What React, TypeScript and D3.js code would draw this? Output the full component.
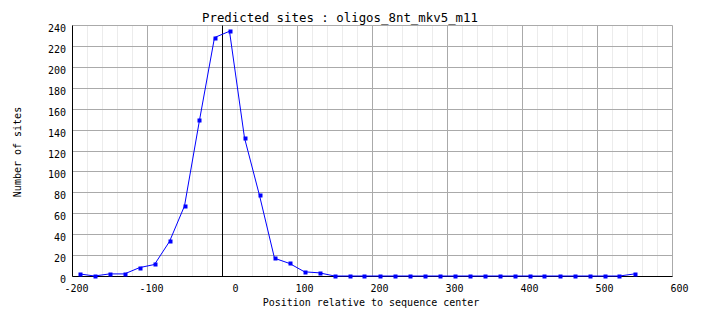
import React from "react";
import * as d3 from "d3";

const positions = [-190, -170, -150, -130, -110, -90, -70, -50, -30, -10, 10, 30, 50, 70, 90, 110, 130, 150, 170, 190, 210, 230, 250, 270, 290, 310, 330, 350, 370, 390, 410, 430, 450, 470, 490, 510, 530, 550];
const counts = [2, 0, 2, 2, 8, 11, 33, 67, 149, 228, 234, 132, 77, 17, 12, 4, 3, 0, 0, 0, 0, 0, 0, 0, 0, 0, 0, 0, 0, 0, 0, 0, 0, 0, 0, 0, 0, 2];
const xTicks = [-200, -100, 0, 100, 200, 300, 400, 500, 600];
const yTicks = [0, 20, 40, 60, 80, 100, 120, 140, 160, 180, 200, 220, 240];
const xMinor = d3.range(-200, 601, 20);
const title = "Predicted sites : oligos_8nt_mkv5_m11";
const xLabel = "Position relative to sequence center";
const yLabel = "Number of sites";

const W = 704, H = 328;
const x = d3.scaleLinear().domain([-200, 600]).range([72, 672]);
const y = d3.scaleLinear().domain([0, 240]).range([276, 25]);
const px = (v: number) => Math.round(v) + 0.5;

export default function App() {
  const data = positions.map((p, i) => ({ p, c: counts[i] }));
  const line = d3.line<{ p: number; c: number }>().x(d => x(d.p)).y(d => y(d.c));
  const font = "'DejaVu Sans Mono', monospace";
  return (
    <svg width={W} height={H} style={{ position: "absolute", left: 0, top: 0, background: "#fff" }}>
      <rect x={0} y={0} width={W} height={H} fill="#fff" />
      {xMinor.map(v => (
        <line key={"mn" + v} x1={px(x(v))} x2={px(x(v))} y1={px(y(240))} y2={px(y(0))} stroke="#ececec" strokeWidth={1} />
      ))}
      {xTicks.map(v => (
        <line key={"mj" + v} x1={px(x(v))} x2={px(x(v))} y1={px(y(240))} y2={px(y(0))} stroke="#aaaaaa" strokeWidth={1} />
      ))}
      {yTicks.map(v => (
        <line key={"yg" + v} x1={px(x(-200))} x2={px(x(600))} y1={px(y(v))} y2={px(y(v))} stroke="#aaaaaa" strokeWidth={1} />
      ))}
      <line x1={px(x(0))} x2={px(x(0))} y1={px(y(240))} y2={px(y(0))} stroke="#000" strokeWidth={1} />
      <line x1={px(x(-200))} x2={px(x(600))} y1={px(y(0))} y2={px(y(0))} stroke="#000" strokeWidth={1} />
      <line x1={px(x(-200))} x2={px(x(-200))} y1={px(y(240))} y2={px(y(0))} stroke="#000" strokeWidth={1} />
      <path d={line(data) || ""} fill="none" stroke="#0000ff" strokeWidth={1} />
      {data.map((d, i) => (
        <rect key={"m" + i} x={Math.round(x(d.p)) - 1.5} y={Math.round(y(d.c)) - 1.5} width={4} height={4} fill="#0000ff" />
      ))}
      {yTicks.map(v => (
        <text key={"yl" + v} x={66} y={px(y(v)) + 6.5} textAnchor="end" fontFamily={font} fontSize={10} fill="#000">{v}</text>
      ))}
      {xTicks.map(v => (
        <text key={"xl" + v} x={x(v) + 16.5} y={292} textAnchor="end" fontFamily={font} fontSize={10} fill="#000">{v}</text>
      ))}
      <text x={340} y={22} textAnchor="middle" fontFamily={font} fontSize={12.4} fill="#000">{title}</text>
      <text x={371} y={306} textAnchor="middle" fontFamily={font} fontSize={10} fill="#000">{xLabel}</text>
      <text transform="translate(21,152) rotate(-90)" textAnchor="middle" fontFamily={font} fontSize={10} fill="#000">{yLabel}</text>
    </svg>
  );
}
